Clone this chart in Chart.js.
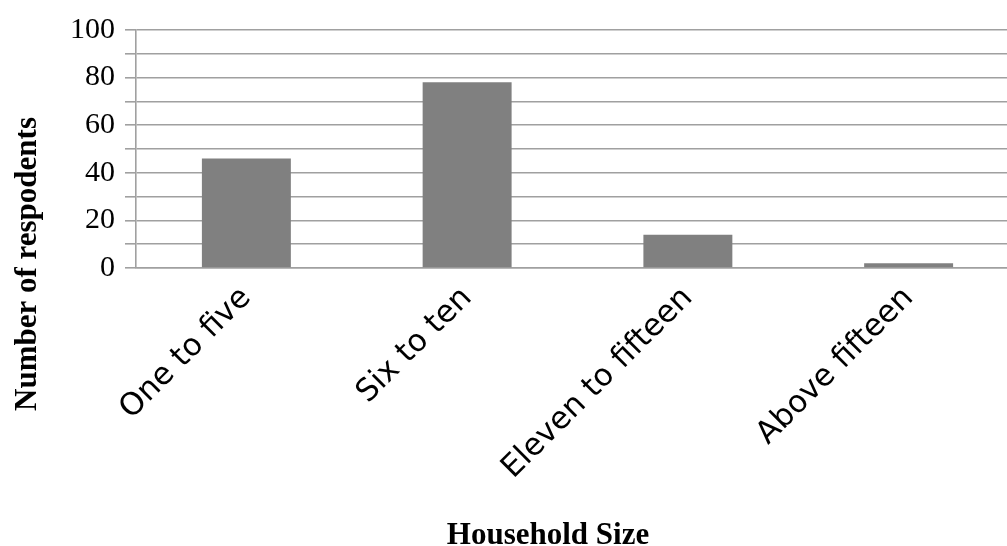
<!DOCTYPE html>
<html>
<head>
<meta charset="utf-8">
<script src="https://cdn.jsdelivr.net/npm/chart.js@4/dist/chart.umd.min.js"></script>
<style>
  html, body { margin: 0; padding: 0; background: #fff; overflow: hidden; }
  #wrap { width: 1007px; height: 546px; position: relative; overflow: hidden; }
</style>
</head>
<body>
<div id="wrap"><canvas id="c" width="1020" height="546"></canvas></div>
<script>
// Household size categories and respondent counts
const categories = ["One to five", "Six to ten", "Eleven to fifteen", "Above fifteen"];
const respondents = [46, 78, 14, 2];
const yLabelValues = [0, 20, 40, 60, 80, 100];
const xTitle = "Household Size";
const yTitle = "Number of respodents";

const gridColor = "#a0a0a0";

// Axis titles painted after the chart
const axisTitles = {
  id: "axisTitles",
  afterDraw(chart) {
    const ctx = chart.ctx;
    ctx.save();
    ctx.fillStyle = "#000";
    ctx.font = 'bold 31px "Liberation Serif"';
    ctx.textAlign = "center";
    ctx.textBaseline = "alphabetic";
    ctx.fillText(xTitle, 548, 544);
    ctx.translate(36, 264);
    ctx.rotate(-Math.PI / 2);
    ctx.fillText(yTitle, 0, 0);
    ctx.restore();
  }
};

new Chart(document.getElementById("c"), {
  type: "bar",
  data: {
    labels: categories,
    datasets: [{
      data: respondents,
      backgroundColor: "#808080",
      borderWidth: 0,
      categoryPercentage: 1,
      barPercentage: 0.403
    }]
  },
  options: {
    responsive: false,
    animation: false,
    layout: { padding: { top: 30, right: 1, left: 0, bottom: 0 } },
    plugins: { legend: { display: false }, tooltip: { enabled: false } },
    scales: {
      x: {
        grid: { display: false, drawTicks: false },
        border: { display: true, color: gridColor, width: 1.6 },
        ticks: {
          color: "#000",
          font: { family: "DejaVu Sans", size: 31 },
          minRotation: 45,
          maxRotation: 45,
          padding: 12,
          autoSkip: false
        },
        afterFit(scale) { scale.height = 278; }
      },
      y: {
        min: 0,
        max: 100,
        grid: { color: gridColor, lineWidth: 1.6, tickLength: 11, drawTicks: true },
        border: { display: true, color: gridColor, width: 1.6 },
        ticks: {
          stepSize: 10,
          autoSkip: false,
          color: "#000",
          padding: 10,
          font: { family: "Liberation Serif", size: 30 },
          callback: (v) => yLabelValues.includes(v) ? String(v) : ""
        },
        afterFit(scale) { scale.width = 136; }
      }
    }
  },
  plugins: [axisTitles]
});
</script>
</body>
</html>
